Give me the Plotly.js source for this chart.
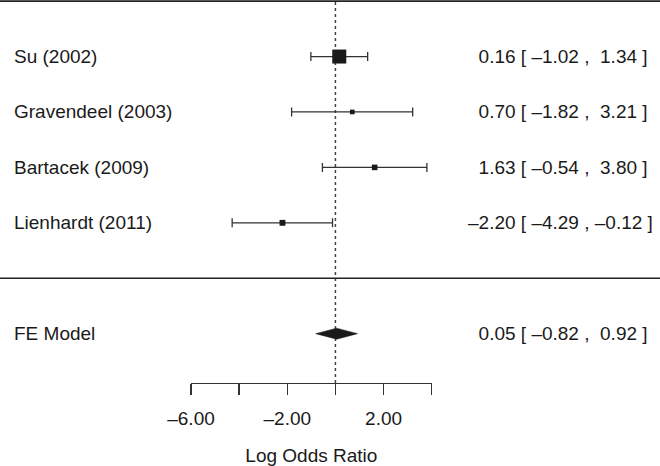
<!DOCTYPE html>
<html>
<head>
<meta charset="utf-8">
<script src="https://cdn.plot.ly/plotly-3.0.1.min.js"></script>
<style>
  body { margin: 0; background: #fff; }
  #chart { width: 660px; height: 466px; }
</style>
</head>
<body>
<div id="chart"></div>
<script>
// study data
var studies = ["Su (2002)", "Gravendeel (2003)", "Bartacek (2009)", "Lienhardt (2011)"];
var estimates = [0.16, 0.70, 1.63, -2.20];
var lowerCI = [-1.02, -1.82, -0.54, -4.29];
var upperCI = [1.34, 3.21, 3.80, -0.12];

// pooled fixed effect
var pooledLabel = "FE Model";
var pooledEst = 0.05;
var pooledLower = -0.82;
var pooledUpper = 0.92;

// axis ticks (R skips every second label)
var tickVals = [-6, -4, -2, 0, 2, 4];
var tickLabels = ["\u20136.00", "", "\u20132.00", "", "2.00", ""];
var axisTitle = "Log Odds Ratio";

var FONT = "Liberation Sans, Arial, Helvetica, sans-serif";
var INK = "#1a1a1a";
var k = studies.length;

// rows go k..1 for the studies, -1 for the pooled estimate
var rows = studies.map(function(s, i) { return k - i; });

// formats a number the way R prints it, with an en dash for minus
function fmt(v, pad) {
  var s = Math.abs(v).toFixed(2);
  return (v < 0 ? "\u2013" : pad) + s;
}
function ciText(est, lb, ub) {
  return fmt(est, "\u2007") + " [ " + fmt(lb, "\u2007") + " , " + fmt(ub, "\u00a0") + " ]";
}

// square size from inverse variance weights, like metafor (cex 0.5 to 1.5)
var weights = lowerCI.map(function(lb, i) {
  var se = (upperCI[i] - lb) / 3.92;
  return 1 / (se * se);
});
var wMin = Math.min.apply(null, weights);
var wMax = Math.max.apply(null, weights);
var sizes = weights.map(function(w) {
  var p = (w - wMin) / (wMax - wMin) + 0.5;
  return 14 * p / 1.5;
});

var studyTrace = {
  x: estimates,
  y: rows,
  type: "scatter",
  mode: "markers",
  cliponaxis: false,
  marker: { symbol: "square", size: sizes, color: INK, opacity: 1, line: { width: 0 } },
  error_x: {
    type: "data",
    symmetric: false,
    array: upperCI.map(function(u, i) { return u - estimates[i]; }),
    arrayminus: lowerCI.map(function(l, i) { return estimates[i] - l; }),
    color: "#333",
    thickness: 1.3,
    width: 4.5
  },
  hoverinfo: "skip"
};

// diamond for the pooled estimate
var h = 0.1;
var diamond = {
  x: [pooledLower, pooledEst, pooledUpper, pooledEst, pooledLower],
  y: [-1, -1 + h, -1, -1 - h, -1],
  type: "scatter",
  mode: "lines",
  fill: "toself",
  fillcolor: INK,
  line: { width: 0.5, color: INK },
  hoverinfo: "skip"
};

var annotations = [];
studies.forEach(function(s, i) {
  annotations.push({
    text: s, xref: "paper", yref: "y", x: 12 / 660, y: rows[i],
    xanchor: "left", yanchor: "middle", showarrow: false,
    font: { family: FONT, size: 19, color: INK }
  });
  annotations.push({
    text: ciText(estimates[i], lowerCI[i], upperCI[i]),
    xref: "paper", yref: "y", x: 466 / 660, y: rows[i],
    xanchor: "left", yanchor: "middle", showarrow: false,
    font: { family: FONT, size: 19, color: INK }
  });
});
annotations.push({
  text: pooledLabel, xref: "paper", yref: "y", x: 12 / 660, y: -1,
  xanchor: "left", yanchor: "middle", showarrow: false,
  font: { family: FONT, size: 19, color: INK }
});
annotations.push({
  text: ciText(pooledEst, pooledLower, pooledUpper),
  xref: "paper", yref: "y", x: 466 / 660, y: -1,
  xanchor: "left", yanchor: "middle", showarrow: false,
  font: { family: FONT, size: 19, color: INK }
});

var layout = {
  width: 660,
  height: 466,
  margin: { l: 0, r: 0, t: 0, b: 0 },
  paper_bgcolor: "#fff",
  plot_bgcolor: "#fff",
  showlegend: false,
  font: { family: FONT, size: 19, color: INK },
  xaxis: {
    domain: [191 / 660, 431.7 / 660],
    range: [-6, 4],
    showgrid: false,
    zeroline: false,
    showline: true,
    linecolor: "#333",
    linewidth: 1.3,
    ticks: "outside",
    ticklen: 11,
    tickwidth: 1.3,
    tickcolor: "#333",
    tickmode: "array",
    tickvals: tickVals,
    ticktext: tickLabels,
    ticklabelstandoff: 7,
    tickfont: { family: FONT, size: 19, color: INK },
    title: { text: axisTitle, font: { family: FONT, size: 19, color: INK }, standoff: 22 },
    fixedrange: true
  },
  yaxis: {
    domain: [(466 - 383) / 466, 1],
    range: [-1.89, 5.02],
    visible: false,
    fixedrange: true
  },
  shapes: [
    // top rule and the rule above the summary
    { type: "line", xref: "paper", yref: "y", x0: 0, x1: 1, y0: k + 1, y1: k + 1,
      line: { color: "#222", width: 1.6 } },
    { type: "line", xref: "paper", yref: "y", x0: 0, x1: 1, y0: 0, y1: 0,
      line: { color: "#222", width: 1.6 } },
    // dotted reference line at zero
    { type: "line", xref: "x", yref: "y", x0: 0, x1: 0, y0: -1.89, y1: k + 1,
      line: { color: "#444", width: 1.5, dash: "dot" }, layer: "below" }
  ],
  annotations: annotations
};

Plotly.newPlot("chart", [studyTrace, diamond], layout, { displayModeBar: false, staticPlot: true });
</script>
</body>
</html>
